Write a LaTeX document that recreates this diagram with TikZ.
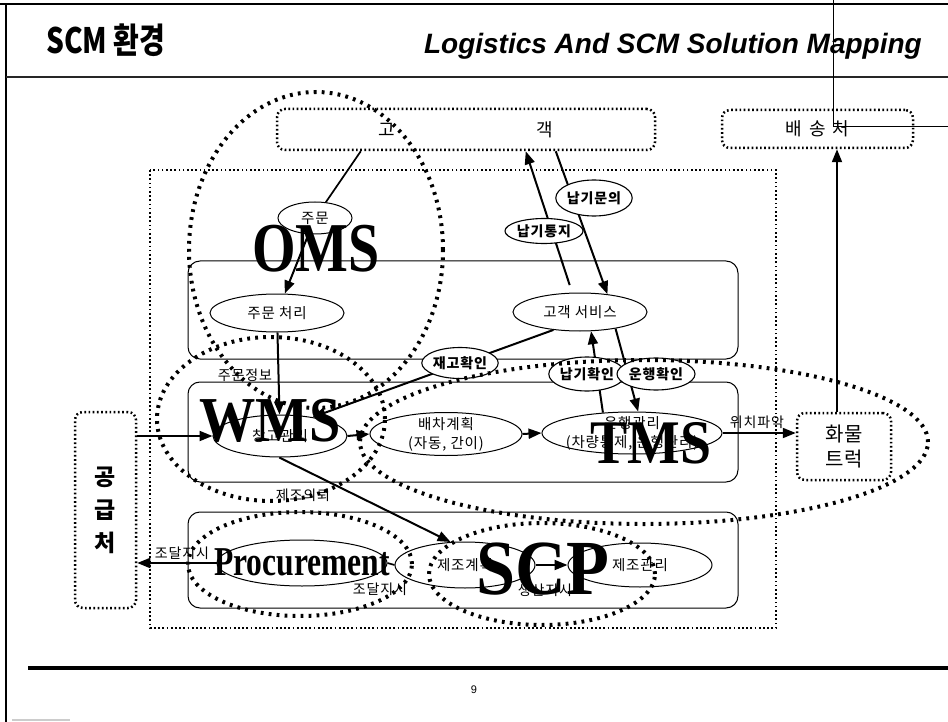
\documentclass[tikz,border=0pt]{standalone}
\usepackage{fontspec}
\setmainfont{Liberation Serif}
\newfontfamily\kr[LetterSpace=6]{Noto Sans CJK KR}
\newfontfamily\krplain{Noto Sans CJK KR}
\newfontfamily\arialf{Liberation Sans}
\usetikzlibrary{shapes.geometric, arrows.meta, calc}
\begin{document}
\begin{tikzpicture}[x=1pt,y=-1pt,
  dotbig/.style={line width=4pt, dash pattern=on 2.8pt off 5.2pt},
  dotbox/.style={draw, line width=2.5pt, dash pattern=on 1.7pt off 2.5pt, rounded corners=8pt, inner sep=0pt},
  soft/.style={draw, line width=1pt, rounded corners=12pt},
  proc/.style={ellipse, draw, line width=1pt, fill=white, inner xsep=-10pt, inner ysep=-5pt, font=\kr\fontsize{14.5}{19}\selectfont, align=center},
  lab/.style={ellipse, draw, line width=1.1pt, fill=white, inner sep=0pt, font=\kr\bfseries\fontsize{14}{15}\selectfont},
  arr/.style={line width=2pt, -{Triangle[length=13pt,width=10pt]}},
  big/.style={inner sep=0pt},
  txt/.style={inner sep=0pt, font=\kr\fontsize{14}{15}\selectfont}]

\useasboundingbox (0,0) rectangle (948,722);
\fill[white] (0,0) rectangle (948,722);

% page frame
\draw[line width=2.5pt] (0,4) -- (948,4);
\draw[line width=2pt] (6,4) -- (6,722);
\draw[line width=1.6pt, black!85] (6,77) -- (948,77);
\draw[line width=0.7pt] (833,0) -- (833,126) -- (948,126);
\draw[line width=4pt] (28,668) -- (948,668);
\draw[line width=2pt, black!20] (12,720) -- (70,720);

% header
\node[anchor=base west, inner sep=0pt] (title) at (46,54) {\scalebox{0.8}[1]{\krplain\bfseries\fontsize{35}{35}\selectfont SCM 환경}};
\node[anchor=base east, inner sep=0pt] (subtitle) at (922,54) {\arialf\bfseries\itshape\fontsize{28}{28}\selectfont Logistics And SCM Solution Mapping};
\node[inner sep=0pt] (pnum) at (474,690) {\arialf\fontsize{11}{11}\selectfont 9};

% frames
\draw[soft] (188,261) rectangle (738,359);
\draw[soft] (188,382) rectangle (738,482);
\draw[soft] (188,512) rectangle (738,608);
\draw[dotbox, rounded corners=0pt] (150,170) rectangle (776,628);

% boxes
\node[dotbox, minimum width=378pt, minimum height=41pt] (cust) at (466,129.5)
  {\krplain\fontsize{18}{18}\selectfont 고\hspace*{141pt}객};
\node[dotbox, minimum width=191pt, minimum height=38pt] (ship) at (817.5,129)
  {\krplain\fontsize{18}{18}\selectfont 배\hspace*{7pt}송\hspace*{7pt}처};
\node[dotbox, minimum width=61pt, minimum height=196pt, align=center,
  font=\krplain\bfseries\fontsize{23}{33}\selectfont] (supp) at (105.5,510) {공\\급\\처};
\node[dotbox, minimum width=94pt, minimum height=67pt, align=center,
  font=\krplain\fontsize{20}{25}\selectfont] (truck) at (844,446.5) {화물\\트럭};

% process ellipses
\node[proc, minimum width=74pt, minimum height=32pt] (order) at (315,218) {주문};
\node[proc, minimum width=134pt, minimum height=38pt] (ordproc) at (277,313) {주문 처리};
\node[proc, minimum width=134pt, minimum height=38pt] (cs) at (580,312) {고객 서비스};
\node[proc, minimum width=134pt, minimum height=42pt] (wh) at (280,436) {창고관리};
\node[proc, minimum width=152pt, minimum height=43pt] (disp) at (446,434) {배차계획\\(자동, 간이)};
\node[proc, minimum width=180pt, minimum height=42pt] (ops) at (632,433) {운행관리\\(차량통제, 운행관리)};
\node[proc, minimum width=170pt, minimum height=46pt] (procm) at (302,563) {};
\node[proc, minimum width=140pt, minimum height=46pt] (mfg) at (465,565) {제조계획};
\node[proc, minimum width=144pt, minimum height=44pt] (mfgm) at (640,565) {제조관리};

% connectors
\draw[line width=1.7pt] ([xshift=85pt]cust.south west) -- (order);
\draw[arr] (order) -- (ordproc);
\draw[arr] (ordproc) -- (wh);
\draw[arr] (supp.east |- wh.west) -- (wh.west);
\draw[arr] (procm.west) -- (supp.east |- procm.west);
\draw[arr] (wh.east) -- (disp.west);
\draw[arr] (disp.east) -- (ops.west);
\draw[arr] (ops.east) -- (truck.west |- ops.east);
\draw[arr] ([xshift=-7pt]truck.north) -- ([xshift=-7pt]truck.north |- ship.south);
\draw[arr, shorten <=8pt] (cs.112) -- ([xshift=250pt]cust.south west);
\draw[arr] ([xshift=280pt]cust.south west) -- (cs.33);
\draw[arr] (cs.214) -- (wh.30);
\draw[arr] (ops.145) -- (cs.300);
\draw[arr] (cs.335) -- (ops.74);
\draw[arr] (wh.268) -- (mfg.122);
\draw[line width=1.7pt] (mfg.west) -- (procm.east);
\draw[arr] (mfg.east) -- (mfgm.west);

% connector labels
\node[lab, minimum width=78pt, minimum height=25pt] (lnt) at (544,231) {납기통지};
\node[lab, minimum width=76pt, minimum height=36pt] (lnq) at (594,198) {납기문의};
\node[lab, minimum width=76pt, minimum height=31pt] (linv) at (460,363) {재고확인};
\node[lab, minimum width=76pt, minimum height=34pt] (ldc) at (587,374) {납기확인};
\node[lab, minimum width=78pt, minimum height=32pt] (ltc) at (656,374) {운행확인};
\node[txt] (t1) at (245,375) {주문정보};
\node[txt] (t2) at (303,495) {제조의뢰};
\node[txt] (t3) at (182,553) {조달지시};
\node[txt] (t4) at (380,589) {조달지시};
\node[txt] (t5) at (545,590) {생산지시};
\node[txt] (t6) at (757,422) {위치파악};

% solution ellipses
\draw[dotbig] (316,250) ellipse [x radius=127pt, y radius=158pt];
\draw[dotbig] (271,419) ellipse [x radius=114pt, y radius=82pt];
\draw[dotbig] (644,442) ellipse [x radius=284pt, y radius=82pt];
\draw[dotbig] (300,564) ellipse [x radius=112pt, y radius=52pt];
\draw[dotbig] (542,574) ellipse [x radius=113pt, y radius=51pt];

% big labels
\node[big] (oms) at (316,249) {\bfseries\fontsize{70}{70}\selectfont\scalebox{0.8}[1]{OMS}};
\node[big] (wms) at (270,421) {\bfseries\fontsize{64}{64}\selectfont\scalebox{0.88}[1]{WMS}};
\node[big] (tms) at (651,443) {\bfseries\fontsize{62}{62}\selectfont\scalebox{0.9}[1]{TMS}};
\node[big] (scp) at (543,569) {\bfseries\fontsize{78}{78}\selectfont\scalebox{0.9}[1]{SCP}};
\node[big] (procl) at (302,562) {\bfseries\fontsize{41}{41}\selectfont\scalebox{0.77}[1]{Procurement}};
\end{tikzpicture}
\end{document}
